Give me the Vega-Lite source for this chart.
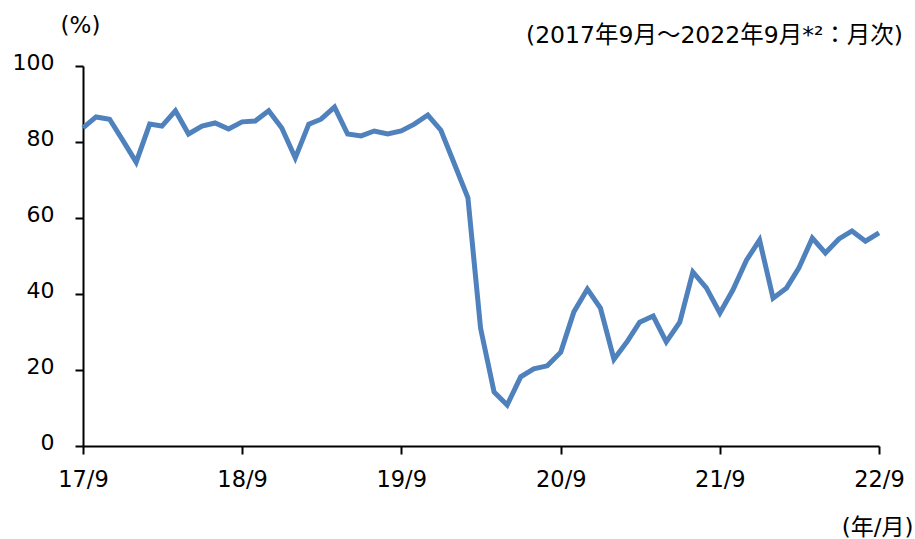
{
  "$schema": "https://vega.github.io/schema/vega-lite/v6.json",
  "autosize": "none",
  "width": 796,
  "height": 380,
  "padding": {"left": 83, "top": 66, "right": 36, "bottom": 93},
  "background": "white",
  "config": {"view": {"stroke": null}, "font": "DejaVu Sans, Noto Sans CJK JP"},
  "title": {"text": "(2017年9月～2022年9月*²：月次)", "anchor": "end", "orient": "top", "frame": "group", "dx": 24, "offset": -33, "fontSize": 23.5, "fontWeight": "normal", "color": "black", "font": "DejaVu Sans, Noto Sans CJK JP"},
  "data": {"values": [
    {"date": "2017-09-01", "value": 83.7},
    {"date": "2017-10-01", "value": 86.6},
    {"date": "2017-11-01", "value": 86.0},
    {"date": "2017-12-01", "value": 80.5},
    {"date": "2018-01-01", "value": 74.7},
    {"date": "2018-02-01", "value": 84.7},
    {"date": "2018-03-01", "value": 84.2},
    {"date": "2018-04-01", "value": 88.2},
    {"date": "2018-05-01", "value": 82.1},
    {"date": "2018-06-01", "value": 84.2},
    {"date": "2018-07-01", "value": 85.0},
    {"date": "2018-08-01", "value": 83.4},
    {"date": "2018-09-01", "value": 85.3},
    {"date": "2018-10-01", "value": 85.5},
    {"date": "2018-11-01", "value": 88.2},
    {"date": "2018-12-01", "value": 83.7},
    {"date": "2019-01-01", "value": 75.8},
    {"date": "2019-02-01", "value": 84.7},
    {"date": "2019-03-01", "value": 86.0},
    {"date": "2019-04-01", "value": 89.2},
    {"date": "2019-05-01", "value": 82.1},
    {"date": "2019-06-01", "value": 81.6},
    {"date": "2019-07-01", "value": 82.9},
    {"date": "2019-08-01", "value": 82.1},
    {"date": "2019-09-01", "value": 82.9},
    {"date": "2019-10-01", "value": 84.7},
    {"date": "2019-11-01", "value": 87.1},
    {"date": "2019-12-01", "value": 83.1},
    {"date": "2020-01-01", "value": 74.2},
    {"date": "2020-02-01", "value": 65.3},
    {"date": "2020-03-01", "value": 31.0},
    {"date": "2020-04-01", "value": 14.2},
    {"date": "2020-05-01", "value": 10.8},
    {"date": "2020-06-01", "value": 18.2},
    {"date": "2020-07-01", "value": 20.3},
    {"date": "2020-08-01", "value": 21.1},
    {"date": "2020-09-01", "value": 24.7},
    {"date": "2020-10-01", "value": 35.3},
    {"date": "2020-11-01", "value": 41.3},
    {"date": "2020-12-01", "value": 36.3},
    {"date": "2021-01-01", "value": 22.8},
    {"date": "2021-02-01", "value": 27.6},
    {"date": "2021-03-01", "value": 32.6},
    {"date": "2021-04-01", "value": 34.2},
    {"date": "2021-05-01", "value": 27.4},
    {"date": "2021-06-01", "value": 32.6},
    {"date": "2021-07-01", "value": 45.8},
    {"date": "2021-08-01", "value": 41.6},
    {"date": "2021-09-01", "value": 35.0},
    {"date": "2021-10-01", "value": 41.1},
    {"date": "2021-11-01", "value": 48.9},
    {"date": "2021-12-01", "value": 54.2},
    {"date": "2022-01-01", "value": 38.9},
    {"date": "2022-02-01", "value": 41.6},
    {"date": "2022-03-01", "value": 46.8},
    {"date": "2022-04-01", "value": 54.7},
    {"date": "2022-05-01", "value": 50.8},
    {"date": "2022-06-01", "value": 54.5},
    {"date": "2022-07-01", "value": 56.6},
    {"date": "2022-08-01", "value": 53.9},
    {"date": "2022-09-01", "value": 56.1}
  ]},
  "mark": {"type": "line", "color": "#4F81BD", "strokeWidth": 5, "strokeJoin": "miter", "strokeCap": "butt"},
  "encoding": {
    "x": {
      "field": "date", "type": "temporal",
      "scale": {"type": "utc", "domain": [{"year": 2017, "month": 9, "date": 1, "utc": true}, {"year": 2022, "month": 9, "date": 1, "utc": true}], "nice": false},
      "axis": {
        "values": [
          {"year": 2017, "month": 9, "date": 1, "utc": true},
          {"year": 2018, "month": 9, "date": 1, "utc": true},
          {"year": 2019, "month": 9, "date": 1, "utc": true},
          {"year": 2020, "month": 9, "date": 1, "utc": true},
          {"year": 2021, "month": 9, "date": 1, "utc": true},
          {"year": 2022, "month": 9, "date": 1, "utc": true}
        ],
        "labelExpr": "utcFormat(datum.value, '%y') + '/' + (utcmonth(datum.value) + 1)",
        "grid": false, "domainColor": "black", "domainWidth": 2, "tickColor": "black", "tickWidth": 2, "tickSize": 8,
        "labelFontSize": 22.5, "labelColor": "black", "labelPadding": 14, "labelFlush": false,
        "title": "(年/月)", "titleFontSize": 23, "titleFontWeight": "normal", "titleColor": "black",
        "titleAnchor": "end", "titleX": 830, "titleY": 81, "titleAlign": "right", "titleBaseline": "middle"
      }
    },
    "y": {
      "field": "value", "type": "quantitative",
      "scale": {"domain": [0, 100], "nice": false},
      "axis": {
        "values": [0, 20, 40, 60, 80, 100],
        "grid": false, "domainColor": "black", "domainWidth": 2, "tickColor": "black", "tickWidth": 2, "tickSize": 8,
        "labelFontSize": 22, "labelColor": "black", "labelPadding": 21, "labelOffset": -4,
        "title": "(%)", "titleAngle": 0, "titleFontSize": 23, "titleFontWeight": "normal", "titleColor": "black",
        "titleX": -3, "titleY": -41, "titleAlign": "center", "titleBaseline": "middle"
      }
    }
  }
}
